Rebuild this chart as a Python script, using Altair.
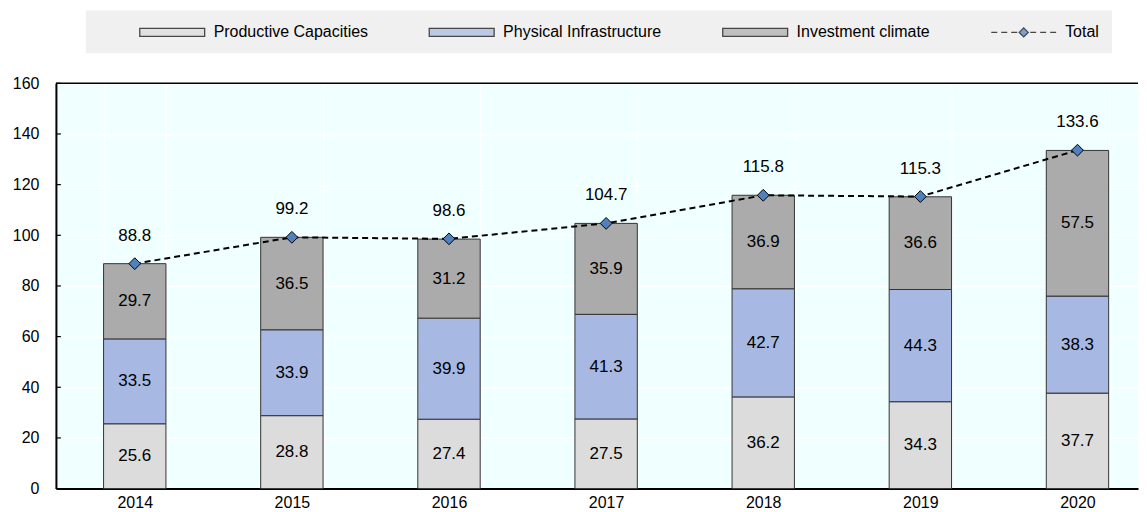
import altair as alt
import pandas as pd

years = ["2014", "2015", "2016", "2017", "2018", "2019", "2020"]
productive = [25.6, 28.8, 27.4, 27.5, 36.2, 34.3, 37.7]
physical = [33.5, 33.9, 39.9, 41.3, 42.7, 44.3, 38.3]
investment = [29.7, 36.5, 31.2, 35.9, 36.9, 36.6, 57.5]
totals = [88.8, 99.2, 98.6, 104.7, 115.8, 115.3, 133.6]
series_names = ["Productive Capacities", "Physical Infrastructure", "Investment climate", "Total"]
y_ticks = [0, 20, 40, 60, 80, 100, 120, 140, 160]

FONT = "Liberation Sans"

rows = []
for i, y in enumerate(years):
    for k, (name, vals) in enumerate(zip(series_names[:3], [productive, physical, investment])):
        rows.append({"year": y, "series": name, "value": vals[i], "order": k})
bars_df = pd.DataFrame(rows)
tot_df = pd.DataFrame({"year": years, "total": totals})
legend_df = pd.DataFrame({"series": series_names})
ticks_df = pd.DataFrame({"t": y_ticks})

color_scale = alt.Scale(domain=series_names, range=["#DCDCDC", "#A7B9E3", "#ABABAB", "#4F81BD"])
# legend symbol shapes (unit = 8px, symbol anchored at its left side)
rect_path = "M-1,-0.5H7.125V0.5H-1Z"
total_path = ("M-1,0H-0.25M0.25,0H1M1.5,0H2.25"
              "M2.5,0L3.0625,-0.5625L3.625,0L3.0625,0.5625Z"
              "M3.875,0H4.625M5.125,0H5.875M6.375,0H7.125")
shape_scale = alt.Scale(domain=series_names, range=[rect_path, rect_path, rect_path, total_path])

nbsp = "\u00a0" * 16
leg = alt.Legend(
    title=" ", titleOrient="left", titlePadding=40, titleFontSize=16,
    orient="none", legendX=30, legendY=-73, direction="horizontal",
    fillColor="#F0F0F0", padding=13, columnPadding=58,
    symbolSize=256, symbolStrokeColor="black", symbolStrokeWidth=1.3,
    labelFontSize=16, labelFont=FONT, labelColor="black", labelOffset=57, labelLimit=0,
    labelExpr="datum.label == 'Total' ? 'Total" + nbsp + "' : datum.label",
)

x_enc = alt.X(
    "year:N",
    scale=alt.Scale(domain=years, paddingInner=0.603, paddingOuter=0.245, align=0.619),
    axis=alt.Axis(title=None, labelAngle=0, ticks=False, grid=True, tickBand="extent",
                  gridColor="white", gridWidth=1.5, domainColor="black", domainWidth=2,
                  labelFontSize=16, labelColor="black", labelPadding=6, labelFont=FONT),
)
y_scale = alt.Scale(domain=[0, 160], nice=False)
y_axis = alt.Axis(title=None, values=y_ticks, ticks=False, grid=True, gridColor="white",
                  gridWidth=1.5, domainColor="black", domainWidth=2, labelFontSize=16,
                  labelColor="black", labelPadding=17, labelFont=FONT)

legend_layer = alt.Chart(legend_df).transform_filter("false").mark_point(
    filled=True, stroke="black", strokeWidth=1.3
).encode(
    x=alt.value(0),
    y=alt.value(0),
    color=alt.Color("series:N", scale=color_scale, legend=leg),
    shape=alt.Shape("series:N", scale=shape_scale, legend=leg),
)

stacked = alt.Chart(bars_df).transform_stack(
    stack="value", as_=["y0", "y1"], groupby=["year"], sort=[alt.SortField("order")]
).transform_calculate(mid="(datum.y0 + datum.y1) / 2")

bars = stacked.mark_bar(stroke="#333333", strokeWidth=1).encode(
    x=x_enc,
    y=alt.Y("y0:Q", scale=y_scale, axis=y_axis),
    y2="y1:Q",
    color=alt.Color("series:N", scale=color_scale, legend=leg),
)
bar_text = stacked.mark_text(fontSize=17, font=FONT, color="black", baseline="middle").encode(
    x=alt.X("year:N"), y=alt.Y("mid:Q"), text=alt.Text("value:Q", format=".1f")
)

line = alt.Chart(tot_df).mark_line(color="black", strokeWidth=2, strokeDash=[6, 4]).encode(
    x="year:N", y="total:Q"
)
points = alt.Chart(tot_df).mark_point(shape="diamond", filled=True, fill="#4F81BD", stroke="black",
                                      strokeWidth=1, size=140, opacity=1).encode(
    x="year:N", y="total:Q"
)
tot_text = alt.Chart(tot_df).mark_text(fontSize=17, font=FONT, color="black", dy=-28,
                                       baseline="middle").encode(
    x="year:N", y="total:Q", text=alt.Text("total:Q", format=".1f")
)

top_rule = alt.Chart(pd.DataFrame({"t": [y_ticks[-1]]})).mark_rule(color="black", strokeWidth=1.5).encode(
    y="t:Q"
)
inner_ticks = alt.Chart(ticks_df).mark_rule(color="black", strokeWidth=1.2).encode(
    y="t:Q", x=alt.value(0), x2=alt.value(5)
)

chart = alt.layer(legend_layer, bars, bar_text, line, points, tot_text, top_rule, inner_ticks).properties(
    width=1084, height=406,
    padding={"left": 4, "top": 2, "right": 0, "bottom": 5},
).configure(font=FONT).configure_view(fill="#F0FFFF", stroke=None)

chart.save("out.html", embed_options={"renderer": "svg", "actions": False})
